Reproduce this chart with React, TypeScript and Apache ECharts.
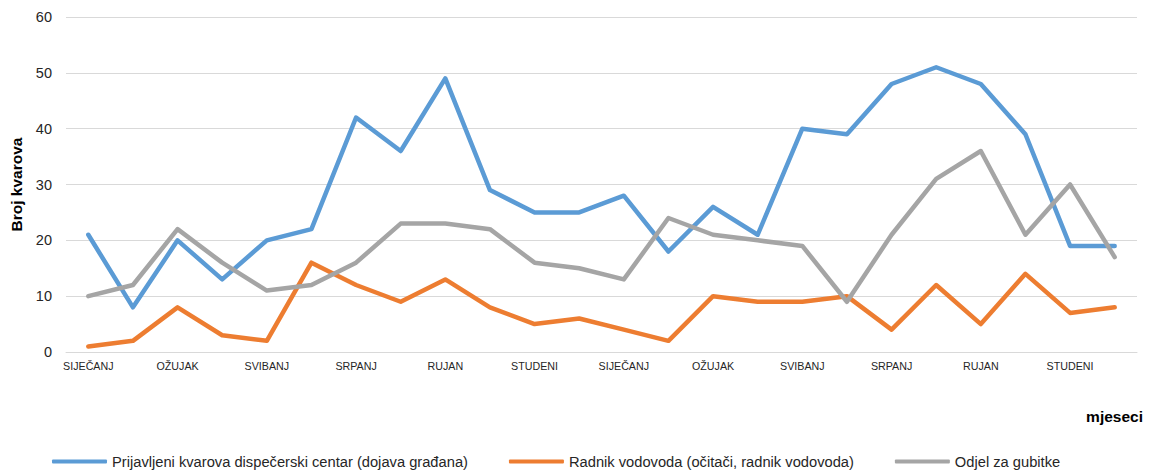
import React, { useEffect, useRef } from "react";
import * as echarts from "echarts";

const months = [
  "SIJEČANJ", "VELJAČA", "OŽUJAK", "TRAVANJ", "SVIBANJ", "LIPANJ",
  "SRPANJ", "KOLOVOZ", "RUJAN", "LISTOPAD", "STUDENI", "PROSINAC",
  "SIJEČANJ", "VELJAČA", "OŽUJAK", "TRAVANJ", "SVIBANJ", "LIPANJ",
  "SRPANJ", "KOLOVOZ", "RUJAN", "LISTOPAD", "STUDENI", "PROSINAC",
];

const seriesNames = [
  "Prijavljeni kvarova dispečerski centar (dojava građana)",
  "Radnik vodovoda (očitači, radnik vodovoda)",
  "Odjel za gubitke",
];

const dispecerski = [21, 8, 20, 13, 20, 22, 42, 36, 49, 29, 25, 25, 28, 18, 26, 21, 40, 39, 48, 51, 48, 39, 19, 19];
const radnik = [1, 2, 8, 3, 2, 16, 12, 9, 13, 8, 5, 6, 4, 2, 10, 9, 9, 10, 4, 12, 5, 14, 7, 8];
const gubitke = [10, 12, 22, 16, 11, 12, 16, 23, 23, 22, 16, 15, 13, 24, 21, 20, 19, 9, 21, 31, 36, 21, 30, 17];

const colors = ["#5B9BD5", "#ED7D31", "#A5A5A5"];
const font = "Liberation Sans, Arial, sans-serif";

export default function App() {
  const ref = useRef<HTMLDivElement>(null);
  useEffect(() => {
    document.body.style.margin = "0";
    if (!ref.current) return;
    const chart = echarts.init(ref.current, null, { renderer: "svg" });
    const data = [dispecerski, radnik, gubitke];
    chart.setOption({
      animation: false,
      textStyle: { fontFamily: font },
      grid: { left: 66, right: 13, top: 17, bottom: 122 },
      xAxis: {
        type: "category",
        data: months,
        boundaryGap: true,
        axisLine: { lineStyle: { color: "#D9D9D9", width: 1 } },
        axisTick: { show: false },
        axisLabel: { interval: 1, fontSize: 10.7, color: "#262626", margin: 8, fontFamily: font },
      },
      yAxis: {
        type: "value",
        min: 0,
        max: 60,
        interval: 10,
        name: "Broj kvarova",
        nameLocation: "middle",
        nameGap: 41,
        nameTextStyle: { fontSize: 15.5, fontWeight: "bold", color: "#000", fontFamily: font },
        axisLine: { show: false },
        axisTick: { show: false },
        axisLabel: { fontSize: 14.5, color: "#262626", margin: 14, fontFamily: font },
        splitLine: { lineStyle: { color: "#D9D9D9", width: 1 } },
      },
      legend: {
        top: 449,
        left: 47,
        itemWidth: 55,
        itemHeight: 4,
        itemGap: 41,
        icon: "roundRect",
        textStyle: { fontSize: 14.7, color: "#262626", fontFamily: font },
        data: seriesNames,
      },
      graphic: [
        {
          type: "text",
          right: 7,
          top: 408,
          style: { text: "mjeseci", fontSize: 15.5, fontWeight: "bold", fill: "#000", fontFamily: font },
        },
      ],
      series: seriesNames.map((name, i) => ({
        name,
        type: "line",
        data: data[i],
        symbol: "none",
        lineStyle: { color: colors[i], width: 4.5, cap: "round", join: "round" },
        itemStyle: { color: colors[i] },
      })),
    });
    return () => chart.dispose();
  }, []);
  return <div ref={ref} style={{ width: 1150, height: 474 }} />;
}
